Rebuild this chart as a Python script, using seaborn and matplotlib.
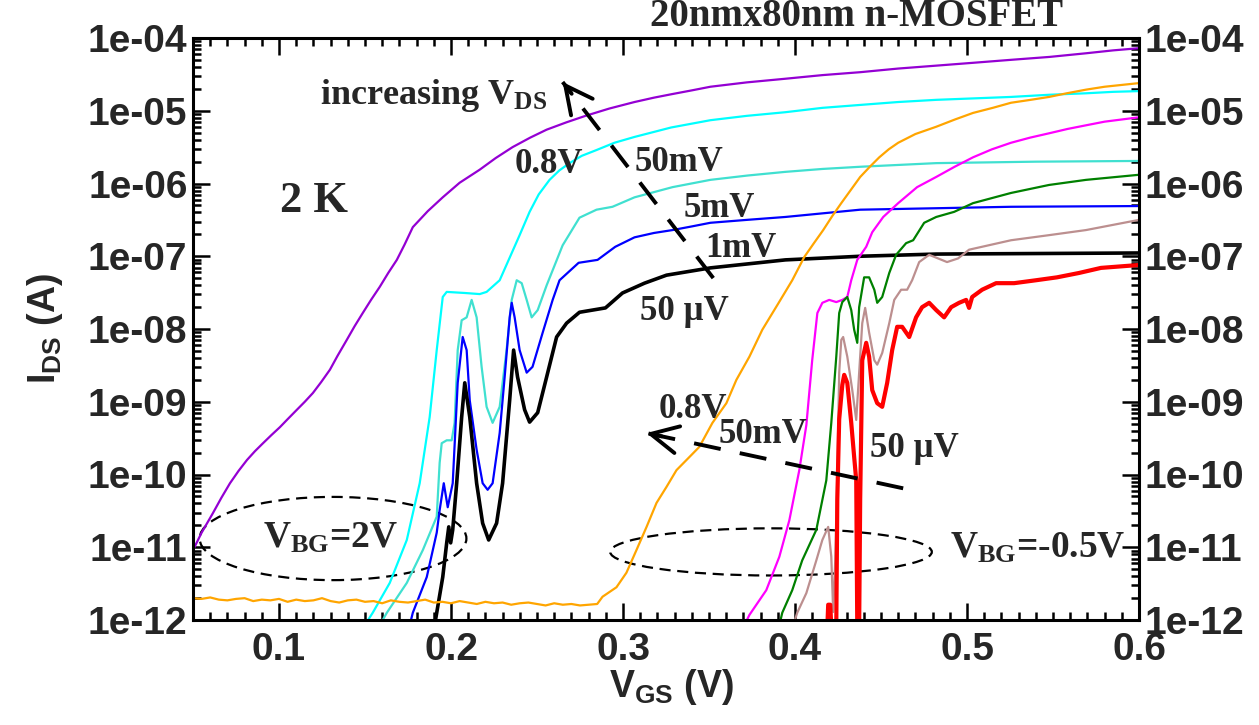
import numpy as np
import pandas as pd
import matplotlib
matplotlib.use("Agg")
import matplotlib.pyplot as plt
from matplotlib.patches import Ellipse
from matplotlib.ticker import (FixedLocator, FixedFormatter, MultipleLocator,
                               LogLocator, NullFormatter)
import seaborn as sns

# ---------------------------------------------------------------------------
# Transfer curves of a 20 nm x 80 nm n-MOSFET at 2 K.
# Gate voltage V_GS in volts, drain current given as log10(I_DS / A).
# ---------------------------------------------------------------------------

# Back gate V_BG = 2 V
vbg2_08v_vgs = [0.05, 0.055, 0.0616, 0.0665, 0.0715, 0.0765, 0.0814, 0.086, 0.0907, 0.0955,
                0.1005, 0.105, 0.1104, 0.115, 0.1197, 0.1245, 0.1296, 0.134, 0.1394, 0.144,
                0.1487, 0.1535, 0.1586, 0.1635, 0.1685, 0.173, 0.1778, 0.1865, 0.1952, 0.205,
                0.2167, 0.226, 0.2358, 0.246, 0.2556, 0.267, 0.2782, 0.292, 0.3067, 0.318,
                0.3288, 0.34, 0.3508, 0.372, 0.3944, 0.416, 0.4379, 0.46, 0.4821, 0.504,
                0.5256, 0.548, 0.5692, 0.585, 0.6]
vbg2_08v_logi = [-11.04, -10.80, -10.53, -10.32, -10.12, -9.95, -9.80, -9.68, -9.57, -9.46,
                 -9.35, -9.24, -9.11, -9.00, -8.88, -8.73, -8.56, -8.37, -8.15, -7.96,
                 -7.78, -7.60, -7.42, -7.23, -7.05, -6.84, -6.60, -6.38, -6.19, -5.99,
                 -5.81, -5.65, -5.50, -5.37, -5.26, -5.16, -5.07, -4.97, -4.88, -4.82,
                 -4.77, -4.72, -4.67, -4.61, -4.56, -4.51, -4.47, -4.42, -4.38, -4.34,
                 -4.30, -4.26, -4.21, -4.17, -4.14]

vbg2_50mv_vgs = [0.1499, 0.1545, 0.1644, 0.1743, 0.1818, 0.1876, 0.1917, 0.1952, 0.1975, 0.2080,
                 0.2167, 0.2207, 0.2283, 0.2341, 0.2399, 0.2457, 0.2510, 0.2573, 0.2630, 0.2689,
                 0.2760, 0.2846, 0.2950, 0.3067, 0.3280, 0.3508, 0.3720, 0.3944, 0.4160, 0.4379,
                 0.4600, 0.4821, 0.5040, 0.5256, 0.5480, 0.5692, 0.5850, 0.6]
vbg2_50mv_logi = [-12.07, -11.90, -11.49, -10.90, -10.12, -9.21, -8.29, -7.56, -7.49, -7.505,
                  -7.52, -7.49, -7.33, -7.02, -6.71, -6.39, -6.15, -5.95, -5.82, -5.72,
                  -5.62, -5.54, -5.44, -5.36, -5.23, -5.13, -5.07, -5.02, -4.96, -4.92,
                  -4.88, -4.85, -4.83, -4.81, -4.78, -4.76, -4.74, -4.73]

vbg2_5mv_vgs = [0.1586, 0.1627, 0.1743, 0.1836, 0.1917, 0.1934, 0.1946, 0.1975, 0.2004, 0.2021,
                0.2039, 0.2062, 0.2091, 0.2120, 0.2149, 0.2178, 0.2207, 0.2242, 0.2283, 0.2323,
                0.2353, 0.2382, 0.2411, 0.2440, 0.2469, 0.2504, 0.2556, 0.2649, 0.2747, 0.2846,
                0.2939, 0.3067, 0.3288, 0.3508, 0.3726, 0.3944, 0.4160, 0.4379, 0.4600, 0.4821,
                0.5400, 0.6]
vbg2_5mv_logi = [-12.07, -11.90, -11.49, -11.04, -10.58, -9.84, -9.57, -9.53, -9.53, -9.29,
                 -8.29, -7.88, -7.84, -7.60, -7.84, -8.52, -9.07, -9.29, -9.07, -8.29,
                 -7.60, -7.33, -7.37, -7.60, -7.84, -7.74, -7.40, -6.85, -6.47, -6.36,
                 -6.32, -6.19, -6.05, -5.95, -5.89, -5.84, -5.80, -5.77, -5.745, -5.72,
                 -5.70, -5.69]

vbg2_1mv_vgs = [0.1760, 0.1778, 0.1859, 0.1917, 0.1934, 0.1958, 0.1981, 0.2010, 0.2039, 0.2068,
                0.2091, 0.2109, 0.2149, 0.2184, 0.2213, 0.2242, 0.2283, 0.2312, 0.2341, 0.2353,
                0.2370, 0.2399, 0.2440, 0.2474, 0.2533, 0.2591, 0.2631, 0.2742, 0.2852, 0.2955,
                0.3067, 0.3180, 0.3288, 0.3400, 0.3508, 0.3720, 0.3944, 0.4379, 0.4821, 0.5256,
                0.6]
vbg2_1mv_logi = [-12.07, -11.90, -11.41, -10.80, -10.49, -10.12, -10.45, -10.12, -8.74, -8.11,
                 -8.29, -8.98, -9.66, -10.12, -10.21, -10.12, -9.43, -8.66, -7.84, -7.64,
                 -7.84, -8.29, -8.60, -8.52, -8.05, -7.60, -7.33, -7.09, -7.05, -6.87,
                 -6.74, -6.68, -6.64, -6.59, -6.54, -6.50, -6.46, -6.36, -6.34, -6.32,
                 -6.31]

vbg2_50uv_vgs = [0.1905, 0.1917, 0.1952, 0.1975, 0.1987, 0.1998, 0.2010, 0.2033, 0.2062, 0.2080,
                 0.2109, 0.2149, 0.2184, 0.2219, 0.2265, 0.2300, 0.2341, 0.2364, 0.2387, 0.2428,
                 0.2457, 0.2504, 0.2556, 0.2614, 0.2672, 0.2747, 0.2898, 0.2997, 0.3125, 0.3253,
                 0.3508, 0.3944, 0.4379, 0.4821, 0.6]
vbg2_50uv_logi = [-12.07, -11.90, -11.41, -10.94, -10.72, -10.94, -10.76, -10.12, -9.21, -8.74,
                  -9.21, -10.12, -10.67, -10.90, -10.67, -10.12, -8.98, -8.29, -8.66, -9.11,
                  -9.28, -9.15, -8.66, -8.11, -7.92, -7.77, -7.71, -7.505, -7.37, -7.26,
                  -7.16, -7.05, -7.00, -6.97, -6.955]

# Back gate V_BG = -0.5 V
vbgm05_08v_floor_logi = [-11.70, -11.71, -11.69, -11.72, -11.73, -11.71, -11.70, -11.74, -11.72, -11.73,
                         -11.71, -11.75, -11.72, -11.74, -11.73, -11.70, -11.74, -11.76, -11.73, -11.72,
                         -11.75, -11.74, -11.77, -11.73, -11.75, -11.76, -11.74, -11.72, -11.76, -11.75,
                         -11.77, -11.74, -11.76, -11.78, -11.75, -11.77, -11.76, -11.79, -11.77, -11.76,
                         -11.78, -11.80, -11.77, -11.79, -11.78, -11.80, -11.79, -11.78]
vbgm05_08v_floor_vgs = list(np.round(np.arange(len(vbgm05_08v_floor_logi)) * 0.005 + 0.05, 3))
vbgm05_08v_vgs = vbgm05_08v_floor_vgs + [
    0.2881, 0.2962, 0.3020, 0.3078, 0.3137, 0.3195, 0.3253, 0.3311, 0.3386, 0.3444,
    0.3520, 0.3601, 0.3659, 0.3735, 0.3810, 0.3900, 0.3984, 0.4054, 0.4110, 0.4164,
    0.4216, 0.4269, 0.4324, 0.4379, 0.4435, 0.4490, 0.4545, 0.4600, 0.4700, 0.4821,
    0.4930, 0.5035, 0.5150, 0.5256, 0.5370, 0.5477, 0.5580, 0.5692, 0.5800, 0.6]
vbgm05_08v_logi = vbgm05_08v_floor_logi + [
    -11.68, -11.55, -11.35, -11.04, -10.72, -10.39, -10.17, -9.94, -9.76, -9.62,
    -9.29, -9.02, -8.70, -8.38, -8.01, -7.66, -7.33, -7.01, -6.82, -6.64,
    -6.45, -6.27, -6.09, -5.91, -5.77, -5.64, -5.53, -5.44, -5.32, -5.22,
    -5.12, -5.03, -4.96, -4.89, -4.85, -4.81, -4.76, -4.71, -4.67, -4.62]

vbgm05_50mv_vgs = [0.3706, 0.3735, 0.3833, 0.3909, 0.3967, 0.4025, 0.4066, 0.4100, 0.4130, 0.4159,
                   0.4199, 0.4240, 0.4275, 0.4304, 0.4327, 0.4362, 0.4414, 0.4449, 0.4513, 0.4600,
                   0.4710, 0.4821, 0.4928, 0.5035, 0.5145, 0.5256, 0.5366, 0.5477, 0.5585, 0.5692,
                   0.5800, 0.6]
vbgm05_50mv_logi = [-12.07, -11.93, -11.59, -11.13, -10.63, -9.94, -9.32, -8.43, -7.78, -7.64,
                    -7.60, -7.63, -7.60, -7.56, -7.33, -7.05, -6.87, -6.67, -6.46, -6.27,
                    -6.05, -5.91, -5.77, -5.64, -5.53, -5.44, -5.37, -5.31, -5.25, -5.20,
                    -5.15, -5.09]

vbgm05_5mv_vgs = [0.3909, 0.3926, 0.3984, 0.4042, 0.4124, 0.4182, 0.4211, 0.4240, 0.4257, 0.4275,
                  0.4304, 0.4327, 0.4344, 0.4362, 0.4373, 0.4402, 0.4431, 0.4461, 0.4478, 0.4507,
                  0.4548, 0.4588, 0.4646, 0.4687, 0.4751, 0.4821, 0.4925, 0.5035, 0.5256, 0.5477,
                  0.5692, 0.6]
vbgm05_5mv_logi = [-12.07, -11.90, -11.59, -11.18, -10.76, -10.08, -9.29, -8.38, -7.78, -7.63,
                   -7.56, -7.74, -8.01, -8.19, -7.70, -7.29, -7.29, -7.46, -7.64, -7.56,
                   -7.23, -6.98, -6.82, -6.78, -6.54, -6.46, -6.39, -6.27, -6.13, -6.02,
                   -5.95, -5.88]

vbgm05_1mv_vgs = [0.3990, 0.4013, 0.4066, 0.4124, 0.4159, 0.4193, 0.4211, 0.4222, 0.4234, 0.4246,
                  0.4257, 0.4269, 0.4280, 0.4304, 0.4333, 0.4356, 0.4373, 0.4391, 0.4408, 0.4431,
                  0.4461, 0.4478, 0.4507, 0.4548, 0.4577, 0.4617, 0.4652, 0.4681, 0.4722, 0.4780,
                  0.4884, 0.4948, 0.5012, 0.5256, 0.5477, 0.5692, 0.6]
vbgm05_1mv_logi = [-12.07, -11.90, -11.63, -11.18, -10.90, -10.72, -11.13, -11.89, -11.18, -9.98,
                   -8.60, -8.15, -8.11, -8.38, -8.84, -9.25, -8.60, -7.92, -7.71, -8.05,
                   -8.43, -8.49, -8.33, -7.92, -7.60, -7.46, -7.46, -7.33, -7.08, -6.98,
                   -7.08, -7.03, -6.91, -6.78, -6.71, -6.64, -6.50]

vbgm05_50uv_vgs = [0.4188, 0.4193, 0.4205, 0.4211, 0.4240, 0.4246, 0.4257, 0.4275, 0.4286, 0.4304,
                   0.4327, 0.4344, 0.4356, 0.4362, 0.4373, 0.4379, 0.4391, 0.4414, 0.4431, 0.4449,
                   0.4478, 0.4507, 0.4536, 0.4565, 0.4594, 0.4623, 0.4664, 0.4704, 0.4739, 0.4780,
                   0.4821, 0.4867, 0.4908, 0.4954, 0.4995, 0.5012, 0.5030, 0.5088, 0.5169, 0.5274,
                   0.5401, 0.5523, 0.5651, 0.5779, 0.6]
vbgm05_50uv_logi = [-12.09, -11.79, -11.79, -12.09, -12.09, -10.34, -9.24, -8.77, -8.63, -8.74,
                    -9.29, -9.76, -10.08, -12.09, -12.09, -10.34, -8.43, -8.19, -8.38, -8.84,
                    -9.02, -9.07, -8.74, -8.29, -7.97, -7.97, -8.11, -7.84, -7.70, -7.64,
                    -7.74, -7.84, -7.70, -7.64, -7.60, -7.71, -7.56, -7.46, -7.37, -7.37,
                    -7.33, -7.29, -7.23, -7.16, -7.12]

# Axis ticks
xtick_values = [0.1, 0.2, 0.3, 0.4, 0.5, 0.6]
xtick_labels = ["0.1", "0.2", "0.3", "0.4", "0.5", "0.6"]
ytick_values = [1e-12, 1e-11, 1e-10, 1e-9, 1e-8, 1e-7, 1e-6, 1e-5, 1e-4]
ytick_labels = ["1e-12", "1e-11", "1e-10", "1e-09", "1e-08", "1e-07", "1e-06", "1e-05", "1e-04"]

# ---------------------------------------------------------------------------
sns.set_theme(style="ticks")
plt.rcParams.update({
    "font.family": ["Liberation Sans", "DejaVu Sans"],
    "font.weight": "bold",
    "mathtext.fontset": "custom",
    "mathtext.rm": "Liberation Serif:bold",
    "mathtext.bf": "Liberation Serif:bold",
    "mathtext.it": "Liberation Serif:bold",
    "mathtext.sf": "Liberation Sans:bold",
    "axes.linewidth": 2.2,
    "axes.edgecolor": "black",
})

fig = plt.figure(figsize=(12.59, 7.25), dpi=100)
ax = fig.add_axes([193 / 1259, 105 / 725, 946 / 1259, 582 / 725])
ax.set_yscale("log")

curves = [
    (vbg2_08v_vgs, vbg2_08v_logi, "#9400d3", 1.6),
    (vbg2_50mv_vgs, vbg2_50mv_logi, "#00ffff", 1.6),
    (vbg2_5mv_vgs, vbg2_5mv_logi, "#40e0d0", 1.6),
    (vbg2_1mv_vgs, vbg2_1mv_logi, "#0000ff", 1.6),
    (vbg2_50uv_vgs, vbg2_50uv_logi, "#000000", 2.6),
    (vbgm05_08v_vgs, vbgm05_08v_logi, "#ffa500", 1.6),
    (vbgm05_50mv_vgs, vbgm05_50mv_logi, "#ff00ff", 1.6),
    (vbgm05_5mv_vgs, vbgm05_5mv_logi, "#008000", 1.6),
    (vbgm05_1mv_vgs, vbgm05_1mv_logi, "#bc8f8f", 1.6),
    (vbgm05_50uv_vgs, vbgm05_50uv_logi, "#ff0000", 3.0),
]
for vgs, logi, color, lw in curves:
    df = pd.DataFrame({"vgs": vgs, "ids": 10.0 ** np.asarray(logi, dtype=float)})
    sns.lineplot(data=df, x="vgs", y="ids", color=color, linewidth=lw, ax=ax,
                 estimator=None, sort=False, legend=False)

ax.set_xlim(0.05, 0.6)
ax.set_ylim(1e-12, 1e-4)

ax.xaxis.set_major_locator(FixedLocator(xtick_values))
ax.xaxis.set_major_formatter(FixedFormatter(xtick_labels))
ax.xaxis.set_minor_locator(MultipleLocator(0.01))
ax.yaxis.set_major_locator(FixedLocator(ytick_values))
ax.yaxis.set_major_formatter(FixedFormatter(ytick_labels))
ax.yaxis.set_minor_locator(LogLocator(base=10, subs=np.arange(2, 10), numticks=100))
ax.yaxis.set_minor_formatter(NullFormatter())

ax.tick_params(which="both", direction="in", top=True, right=True,
               labelright=True, width=1.8, color="black")
ax.tick_params(which="major", length=12, labelsize=28)
ax.tick_params(which="minor", length=6)
ax.tick_params(axis="x", pad=9)
ax.tick_params(axis="y", pad=4)
for lab in ax.get_xticklabels() + ax.get_yticklabels():
    lab.set_fontweight("bold")

ax.set_xlabel(r"$\mathsf{V_{GS}}$ (V)", fontsize=27, fontweight="bold")
ax.set_ylabel(r"$\mathsf{I_{DS}}$ (A)", fontsize=27, fontweight="bold")
ax.xaxis.set_label_coords(0.506, -0.08)
ax.yaxis.set_label_coords(-0.135, 0.5)

fig.text(857 / 1259, 1 - 17 / 725, "20nmx80nm n-MOSFET", family="Liberation Serif",
         weight="bold", fontsize=28, ha="center", va="center")

serif = dict(family="Liberation Serif", weight="bold", transform=ax.transAxes,
             ha="left", va="baseline")
ax.text(0.134, 0.887, r"increasing $\mathrm{V_{DS}}$", fontsize=26, **serif)
ax.text(0.092, 0.701, "2 K", fontsize=32, **serif)
ax.text(0.340, 0.768, "0.8V", fontsize=25, **serif)
ax.text(0.467, 0.771, "50mV", fontsize=25, **serif)
ax.text(0.519, 0.692, "5mV", fontsize=25, **serif)
ax.text(0.541, 0.624, "1mV", fontsize=25, **serif)
ax.text(0.473, 0.515, "50 \u00b5V", fontsize=25, **serif)
ax.text(0.492, 0.347, "0.8V", fontsize=25, **serif)
ax.text(0.556, 0.304, "50mV", fontsize=25, **serif)
ax.text(0.716, 0.280, "50 \u00b5V", fontsize=25, **serif)
ax.text(0.074, 0.125, r"$\mathrm{V_{BG}}$=2V", fontsize=27, **serif)
ax.text(0.800, 0.107, r"$\mathrm{V_{BG}}$=-0.5V", fontsize=27, **serif)

# Dashed guide arrows pointing towards larger drain bias
def dashed_arrow(tail, tip):
    ax.plot([tail[0], tip[0]], [tail[1], tip[1]], color="black", lw=2.8,
            linestyle=(0, (7, 5)), solid_capstyle="butt")
    back = (tip[0] + 0.06 * (tail[0] - tip[0]),
            10 ** (np.log10(tip[1]) + 0.06 * (np.log10(tail[1]) - np.log10(tip[1]))))
    ax.annotate("", xy=tip, xytext=back,
                arrowprops=dict(arrowstyle="->,head_length=0.7,head_width=0.35",
                                lw=2.8, color="black", mutation_scale=28,
                                shrinkA=0, shrinkB=0))

dashed_arrow((0.3525, 10 ** -7.30), (0.2649, 10 ** -4.605))
dashed_arrow((0.4629, 10 ** -10.19), (0.3136, 10 ** -9.43))

# Back-gate groups
for (cx, cy, w, h) in [(0.148, 0.140, 0.282, 0.143), (0.611, 0.117, 0.340, 0.081)]:
    ax.add_patch(Ellipse((cx, cy), w, h, transform=ax.transAxes, fill=False,
                         edgecolor="black", lw=1.6, linestyle=(0, (5, 3))))

fig.savefig("out.png", dpi=100)
